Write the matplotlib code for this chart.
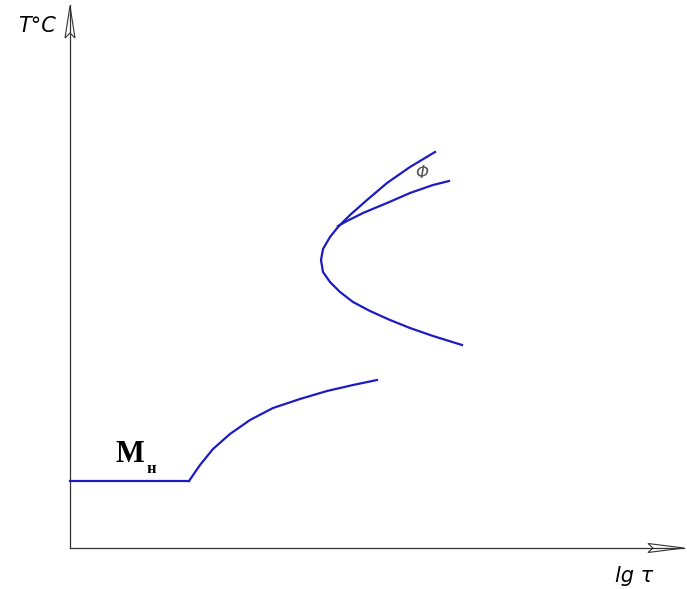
import matplotlib.pyplot as plt
from matplotlib.patches import Polygon

# martensite start line
ms_x = [0, 119]
ms_y = [67, 67]

# lower (bainite) curve
low_x = [119, 130, 143, 160, 180, 203, 230, 257, 283, 307]
low_y = [67, 83, 99, 114, 128, 140, 149, 157, 163, 168]

# C-curve, outer branch
c_x = [365, 340, 317, 297, 280, 268, 260, 253, 251, 253, 260, 270, 283, 300, 320, 340, 363, 392]
c_y = [396, 381, 365, 348, 333, 321, 311, 299, 288, 276, 266, 256, 246, 237, 228, 220, 212, 203]

# ferrite branch
f_x = [268, 277, 293, 317, 340, 363, 379]
f_y = [322, 327, 335, 345, 355, 363, 367]

blue = '#1c1cc4'

fig = plt.figure(figsize=(6.87, 5.89), dpi=100)
ax = fig.add_axes([0, 0, 1, 1])
ax.set_xlim(-70, 617)
ax.set_ylim(-41, 548)
ax.set_axis_off()

# axes with hollow arrow heads
ax.plot([0, 614], [0, 0], color='#333333', lw=0.9)
ax.plot([0, 0], [0, 543], color='#333333', lw=0.9)
ax.add_patch(Polygon([(0, 542), (5, 510), (0, 515), (-5, 510)], closed=True,
                     facecolor='white', edgecolor='#333333', lw=0.8))
ax.add_patch(Polygon([(614, 0), (578, 4.5), (583, 0), (578, -4.5)], closed=True,
                     facecolor='white', edgecolor='#333333', lw=0.8))

for xs, ys in [(ms_x, ms_y), (low_x, low_y), (c_x, c_y), (f_x, f_y)]:
    ax.plot(xs, ys, color=blue, lw=1.6, solid_joinstyle='round')

ax.text(352, 375, 'Φ', color='#555555', fontsize=12, style='italic',
        ha='center', va='center', family='DejaVu Sans')
ax.text(45, 86, 'M', fontsize=22, fontweight='bold', family='Liberation Serif',
        ha='left', va='baseline')
ax.text(77, 75, 'н', fontsize=12, fontweight='bold', family='Liberation Serif',
        ha='left', va='baseline')

ax.text(-52, 522, 'T°C', fontsize=15, style='italic', family='DejaVu Sans',
        ha='left', va='center')
ax.text(545, -28, 'lg τ', fontsize=15, style='italic', family='DejaVu Sans',
        ha='left', va='center')

fig.savefig('out.png', dpi=100)
